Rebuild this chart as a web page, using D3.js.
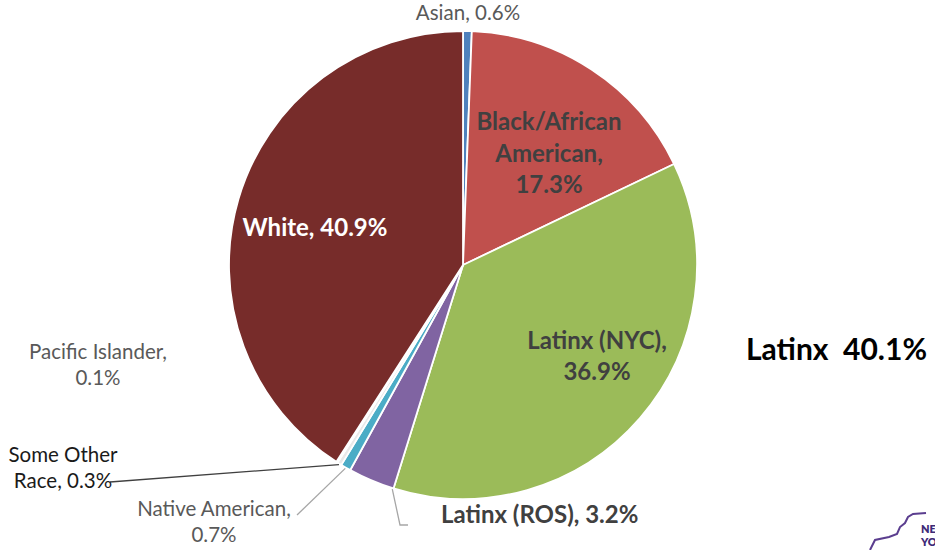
<!DOCTYPE html>
<html>
<head>
<meta charset="utf-8">
<script src="https://cdn.jsdelivr.net/npm/d3@7/dist/d3.min.js"></script>
<style>
  html, body { margin: 0; padding: 0; background: #fff; }
  svg { display: block; font-family: Lato, "Open Sans", sans-serif; }
</style>
</head>
<body>
<svg id="chart" width="935" height="550"></svg>
<script>
// Share of population by race / ethnicity, clockwise from 12 o'clock
const categories = ["Asian", "Black/African American", "Latinx (NYC)", "Latinx (ROS)",
                    "Native American", "Some Other Race", "Pacific Islander", "White"];
const shares = [0.6, 17.3, 36.9, 3.2, 0.7, 0.3, 0.1, 40.9];
const sliceColors = ["#4F81BD", "#C0504D", "#9BBB59", "#8064A2",
                     "#4BACC6", "#E9E9E9", "#F2F2F2", "#772C2A"];
const latinxTotal = 40.1;

const svg = d3.select("#chart");
const cx = 463, cy = 265, R = 234;

const pie = d3.pie().sort(null).value(d => d.value);
const arcs = pie(categories.map((c, i) => ({ name: c, value: shares[i], color: sliceColors[i] })));
const arc = d3.arc().innerRadius(0).outerRadius(R);

const g = svg.append("g").attr("transform", `translate(${cx},${cy})`);

g.selectAll("path.slice")
  .data(arcs)
  .join("path")
  .attr("class", "slice")
  .attr("d", arc)
  .attr("fill", d => d.data.color)
  .attr("stroke", "#fff")
  .attr("stroke-width", 1.8)
  .attr("stroke-linejoin", "round");

// Point on the rim at a fraction t through a slice
function rimPoint(d, t, r) {
  const a = d.startAngle + (d.endAngle - d.startAngle) * t;
  return [cx + r * Math.sin(a), cy - r * Math.cos(a)];
}

// Label placement (lines of text, centre x, first-line centre y)
const fmt = v => d3.format(".1f")(v) + "%";
const outer = { size: 20.5, weight: 400, fill: "#595959" };
const inner = { size: 24, weight: 700, fill: "#404040" };
const labelLayout = {
  "Asian":                  { ...outer, x: 468, y: 13,  lines: d => [`Asian, ${fmt(d)}`], anchor: "middle" },
  "Black/African American": { ...inner, x: 549, y: 122, lines: d => ["Black/African", "American,", fmt(d)], anchor: "middle", lh: 31.5 },
  "Latinx (NYC)":           { ...inner, x: 597, y: 341, lines: d => ["Latinx (NYC),", fmt(d)], anchor: "middle", lh: 31 },
  "White":                  { ...inner, fill: "#FFFFFF", x: 315, y: 228, lines: d => [`White, ${fmt(d)}`], anchor: "middle" },
  "Pacific Islander":       { ...outer, x: 98,  y: 352, lines: d => ["Pacific Islander,", fmt(d)], anchor: "middle", lh: 26 },
  "Some Other Race":        { ...outer, fill: "#1a1a1a", x: 63, y: 455, lines: d => ["Some Other", `Race, ${fmt(d)}`], anchor: "middle", lh: 26,
                              leader: { t: 0.5, pts: [[110, 482]] } },
  "Native American":        { ...outer, x: 214, y: 509, lines: d => ["Native American,", fmt(d)], anchor: "middle", lh: 26,
                              leader: { t: 0.5, pts: [[297, 515]] } },
  "Latinx (ROS)":           { ...inner, x: 441, y: 515, lines: d => [`Latinx (ROS), ${fmt(d)}`], anchor: "start",
                              leader: { t: 0.02, pts: [[400, 525], [408, 525]] } }
};

// Leader lines
arcs.forEach(d => {
  const L = labelLayout[d.data.name];
  if (!L || !L.leader) return;
  const start = rimPoint(d, L.leader.t, R + 1);
  const pts = [start, ...L.leader.pts];
  svg.append("path")
    .attr("d", d3.line()(pts))
    .attr("fill", "none")
    .attr("stroke", d.data.name === "Some Other Race" ? "#404040" : "#A6A6A6")
    .attr("stroke-width", 1.3);
});

// Data labels
arcs.forEach(d => {
  const L = labelLayout[d.data.name];
  const lines = L.lines(d.data.value);
  const t = svg.append("text")
    .attr("text-anchor", L.anchor)
    .attr("font-size", L.size)
    .attr("font-weight", L.weight)
    .attr("fill", L.fill);
  lines.forEach((s, i) => {
    t.append("tspan")
      .attr("x", L.x)
      .attr("y", L.y + i * (L.lh || 0))
      .attr("dy", "0.35em")
      .text(s);
  });
});

// Combined Latinx total
svg.append("text")
  .attr("x", 746).attr("y", 349).attr("dy", "0.35em")
  .attr("font-size", 30).attr("font-weight", 700).attr("fill", "#000")
  .attr("xml:space", "preserve")
  .text(`Latinx  ${fmt(latinxTotal)}`);

// Corner of the state logo
svg.append("path")
  .attr("d", "M870,550 L875,540 L889,537 L897,534 L900,527 L905,523 L908,517 L913,514 L926,513")
  .attr("fill", "none").attr("stroke", "#5B3E8F").attr("stroke-width", 2);
const logoText = svg.append("text").attr("font-size", 11).attr("font-weight", 800).attr("fill", "#3E2A78");
logoText.append("tspan").attr("x", 921).attr("y", 533).text("NE");
logoText.append("tspan").attr("x", 921).attr("y", 546).text("YO");
</script>
</body>
</html>
